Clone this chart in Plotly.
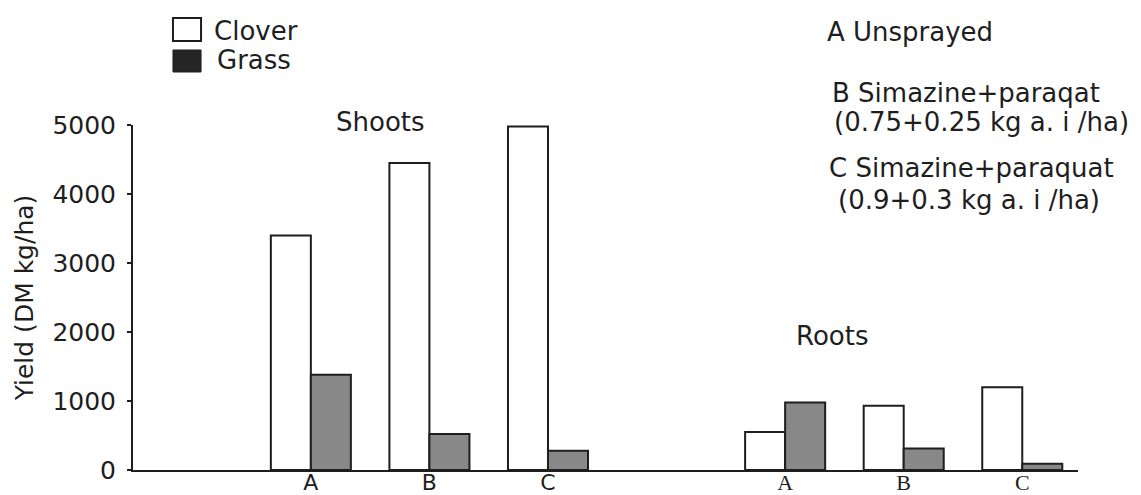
import plotly.graph_objects as go

# ---- data ----
categories = ["Shoots A", "Shoots B", "Shoots C", "gap", "Roots A", "Roots B", "Roots C"]
bar_categories = ["Shoots A", "Shoots B", "Shoots C", "Roots A", "Roots B", "Roots C"]
clover = [3400, 4450, 4980, 550, 930, 1200]
grass = [1380, 520, 280, 980, 310, 90]
group_letters = ["A", "B", "C", "A", "B", "C"]
y_ticks = [0, 1000, 2000, 3000, 4000, 5000]

FONT = "DejaVu Sans"
SERIF = "Liberation Serif"
INK = "#1e1e1e"

# Shoots labels are sans, Roots labels serif (as in the scan)
tick_labels = [
    f"<span style='font-family:{FONT}'>{t}</span>" if c.startswith("Shoots")
    else f"<span style='font-family:{SERIF}'>{t}</span>"
    for c, t in zip(bar_categories, group_letters)
]

fig = go.Figure()
fig.add_trace(go.Bar(x=bar_categories, y=clover, name="Clover",
                     marker=dict(color="white", line=dict(color=INK, width=2)),
                     showlegend=False))
fig.add_trace(go.Bar(x=bar_categories, y=grass, name="Grass",
                     marker=dict(color="#888888", line=dict(color=INK, width=2)),
                     showlegend=False))

fig.update_layout(
    width=1141, height=495,
    margin=dict(l=133, r=63, t=125, b=25, autoexpand=False),
    paper_bgcolor="white", plot_bgcolor="white",
    barmode="group", bargap=0.325, bargroupgap=0,
    font=dict(family=FONT, size=24, color=INK),
    xaxis=dict(
        type="category", categoryorder="array", categoryarray=categories,
        range=[-1.5, 6.47],
        tickmode="array", tickvals=bar_categories, ticktext=tick_labels,
        showline=True, linecolor=INK, linewidth=2,
        showgrid=False, zeroline=False, ticks="",
        ticklabelstandoff=-8,
        tickfont=dict(family=FONT, size=22, color=INK),
        automargin=False,
    ),
    yaxis=dict(
        range=[0, 5000], tickmode="array", tickvals=y_ticks,
        showline=True, linecolor=INK, linewidth=2,
        showgrid=False, zeroline=False,
        ticks="outside", ticklen=4, tickcolor=INK, tickwidth=2,
        ticklabelstandoff=6,
        tickfont=dict(family=FONT, size=25, color=INK),
        title=dict(text="Yield (DM kg/ha)", standoff=12,
                   font=dict(family=FONT, size=25, color=INK)),
        automargin=False,
    ),
)

# legend drawn as boxes + labels
fig.add_shape(type="rect", xref="paper", yref="paper",
              x0=0.0423, x1=0.072, y0=1.2435, y1=1.310,
              line=dict(color=INK, width=2), fillcolor="white")
fig.add_shape(type="rect", xref="paper", yref="paper",
              x0=0.0423, x1=0.072, y0=1.1536, y1=1.2174,
              line=dict(color=INK, width=1), fillcolor="#252525")

def note(text, x, y, anchor="left", size=26):
    fig.add_annotation(text=text, xref="paper", yref="paper", x=x, y=y,
                       xanchor=anchor, yanchor="middle", showarrow=False,
                       font=dict(family=FONT, size=size, color=INK))

note("Clover", 0.0836, 1.2725)
note("Grass", 0.0868, 1.1884)
note("Shoots", 0.2614, 1.0087, anchor="center", size=26)
note("Roots", 0.7397, 0.3884, anchor="center", size=26)
note("A Unsprayed", 0.7323, 1.2696)
note("B Simazine+paraqat", 0.7376, 1.0928)
note("(0.75+0.25 kg a. i /ha)", 0.7397, 1.0087)
note("C Simazine+paraquat", 0.7344, 0.8754)
note("(0.9+0.3 kg a. i /ha)", 0.7439, 0.7826)

fig.write_html("out.html",
               config={"displayModeBar": False},
               post_script="document.body.style.margin='0';document.body.style.overflow='hidden';")
